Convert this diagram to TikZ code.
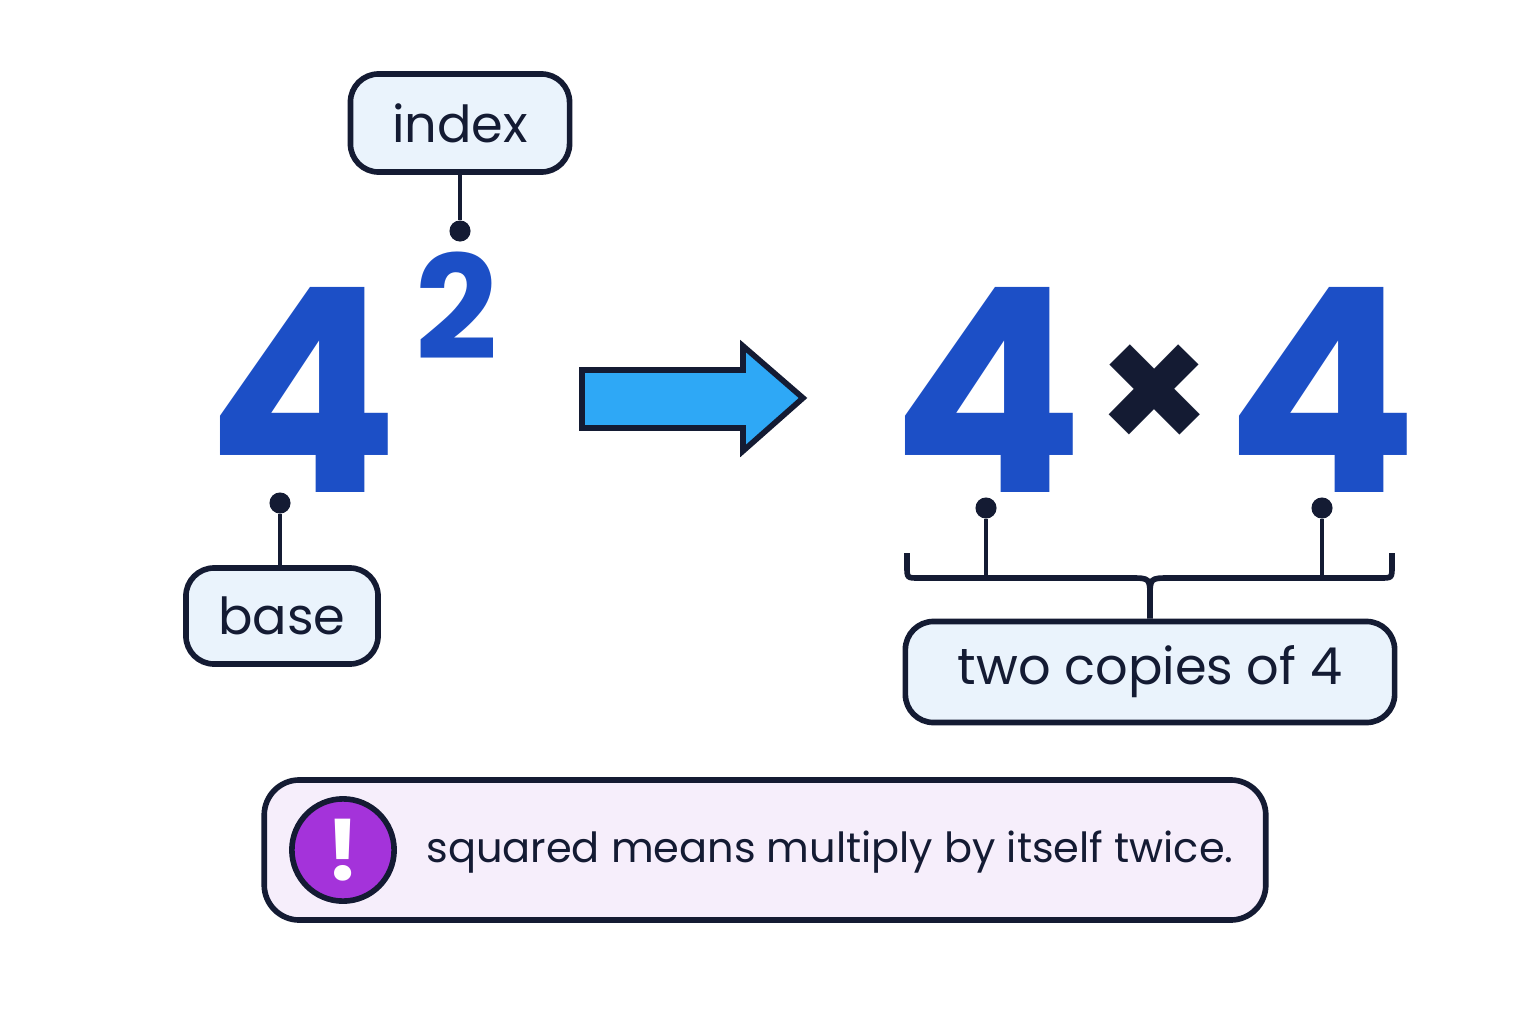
\documentclass[tikz,border=0pt]{standalone}
\usepackage{fontspec}
\setmainfont{Poppins}
\definecolor{ink}{HTML}{141B33}
\definecolor{digitblue}{HTML}{1C4FC6}
\definecolor{arrowblue}{HTML}{2EA8F6}
\definecolor{boxfill}{HTML}{EAF3FC}
\definecolor{notefill}{HTML}{F6EEFB}
\definecolor{alertpurple}{HTML}{A433DA}
\tikzset{
  label box/.style={draw=ink,line width=1.6pt,fill=boxfill,rounded corners=8pt,font=\fontsize{14.5}{17}\selectfont,text=ink},
  big digit/.style={text=digitblue,font=\fontsize{81}{81}\selectfont\bfseries,inner sep=0pt},
  pin/.style={draw=ink,line width=1.4pt},
  pin dot/.style={circle,fill=ink,inner sep=0pt,minimum size=6pt}
}
\begin{document}
\begin{tikzpicture}[x=0.01cm,y=-0.01cm]
\useasboundingbox[fill=white] (0,0) rectangle (1536,1024);

% left side: power
\node[big digit] (base4) at (303,390) {4};
\node[big digit,font=\fontsize{41}{41}\selectfont\bfseries] (idx2) at (457,306) {2};
\node[label box,minimum width=2.19cm,minimum height=0.98cm] (index) at (460,123) {index};
\node[label box,minimum width=1.92cm,minimum height=0.96cm] (base) at (282,616) {base};
\node[pin dot] (dindex) at (460,231) {};
\node[pin dot] (dbase) at (280,503) {};
\draw[pin] (index.south) -- (dindex);
\draw[pin] (dbase) -- (dbase |- base.north);

% arrow
\draw[draw=ink,line width=1.6pt,fill=arrowblue,line join=miter]
  (582,370) -- (743,370) -- (743,346) -- (803,398) -- (743,451) -- (743,428) -- (582,428) -- cycle;

% right side: product
\node[big digit] (left4) at (988,390) {4};
\node[text=ink,font=\fontsize{52}{52}\selectfont\bfseries] (times) at (1155,400) {×};
\node[big digit] (right4) at (1322,390) {4};
\node[pin dot] (dleft) at (986,508) {};
\node[pin dot] (dright) at (1322,508) {};
\coordinate (bl) at (986,578);
\coordinate (br) at (1322,578);
\draw[pin] (dleft) -- (bl);
\draw[pin] (dright) -- (br);

% brace
\node[label box,minimum width=4.89cm,minimum height=1.01cm] (copies) at (1150,672) {two copies of 4};
\draw[pin,line width=1.6pt] (907,553) -- (907,566) .. controls (907,578) .. (919,578) -- (1130,578)
  .. controls (1150,578) .. (1150,598) -- (copies.north);
\draw[pin,line width=1.6pt] (1392,553) -- (1392,566) .. controls (1392,578) .. (1380,578) -- (1170,578)
  .. controls (1150,578) .. (1150,598);

% note
\node[draw=ink,line width=1.6pt,fill=notefill,rounded corners=10pt,minimum width=10.01cm,minimum height=1.4cm] (note) at (765,850) {};
\node[circle,draw=ink,line width=1.6pt,fill=alertpurple,minimum size=0.86cm,text=white,font=\fontsize{24}{24}\selectfont\bfseries] (alert) at (343,850) {!};
\node[anchor=west,text=ink,font=\fontsize{11.8}{14}\selectfont] (notetext) at (414,852) {squared means multiply by itself twice.};
\end{tikzpicture}
\end{document}
